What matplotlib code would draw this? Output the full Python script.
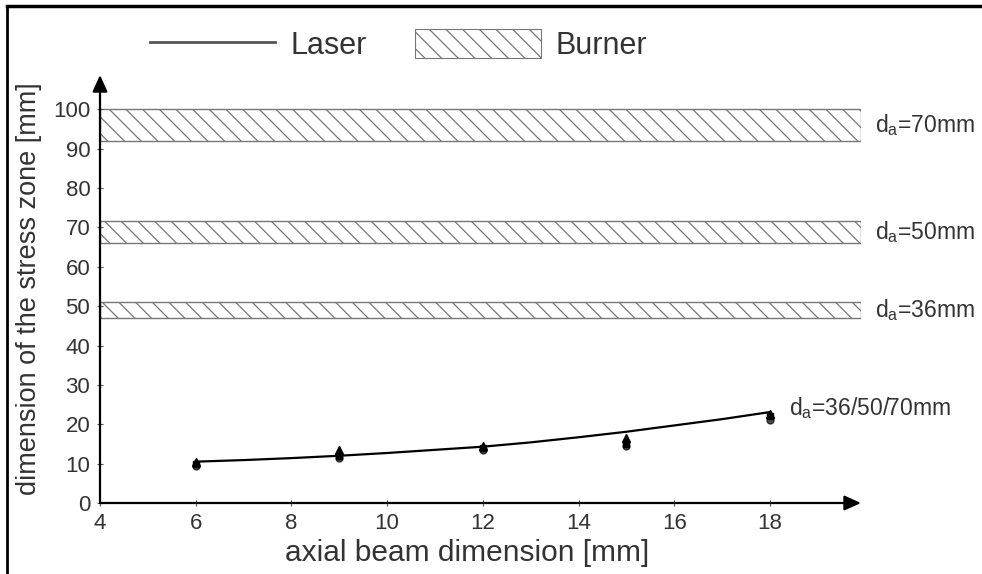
import numpy as np
import matplotlib
matplotlib.use("Agg")
import matplotlib.pyplot as plt
from matplotlib.lines import Line2D
from matplotlib.patches import Patch

plt.rcParams["font.family"] = ["Liberation Sans", "DejaVu Sans"]
plt.rcParams["hatch.linewidth"] = 0.9
plt.rcParams["hatch.color"] = "#555555"

# ------------- DATA -----------------
# laser: measured points for d_a = 36 / 50 / 70 mm
beam = [6, 9, 12, 15, 18]
zone_36 = [10.5, 13.5, 14.5, 16.5, 22.5]
zone_50 = [10.0, 12.0, 14.0, 15.0, 22.0]
zone_70 = [9.5, 11.5, 13.5, 14.5, 21.0]

# trend line
trend_x = [6, 7, 8, 9, 10, 11, 12, 13, 14, 15, 16, 17, 18]
trend_y = [10.5, 10.9, 11.4, 12.0, 12.7, 13.5, 14.3, 15.4, 16.7, 18.1, 19.7, 21.3, 23.1]

# burner: stress zone bands
band_low = [47, 66, 92]
band_high = [51, 71.5, 100]
band_labels = ["36mm", "50mm", "70mm"]

x_ticks = [4, 6, 8, 10, 12, 14, 16, 18]
y_ticks = list(range(0, 101, 10))
# ------------------------------------

W, H = 982, 574
fig = plt.figure(figsize=(W / 100, H / 100), dpi=100)
ax = fig.add_axes([100 / W, (H - 503) / H, 761 / W, (503 - 75) / H])

ax.set_xlim(4, 19.9)
ax.set_ylim(0, 108.7)

gray = "#555555"
txt = "#333333"

# hatched burner bands
for lo, hi in zip(band_low, band_high):
    ax.axhspan(lo, hi, facecolor="white", edgecolor="#777777", hatch="\\\\", linewidth=1.0)

# laser trend + points
ax.plot(trend_x, trend_y, color="black", lw=1.6, zorder=3)
ax.plot(beam, zone_36, ls="none", marker="^", ms=6, color="black", zorder=4)
ax.plot(beam, zone_50, ls="none", marker="s", ms=5, color="black", zorder=4)
ax.plot(beam, zone_70, ls="none", marker="o", ms=5, color="black", alpha=0.7, zorder=4)

# axes with arrow heads
for s in ax.spines.values():
    s.set_visible(False)
ax.annotate("", xy=(1.0, 0), xytext=(0, 0), xycoords="axes fraction",
            arrowprops=dict(arrowstyle="-|>,head_length=1.0,head_width=0.45",
                            color="black", lw=1.6, shrinkA=0, shrinkB=0))
ax.annotate("", xy=(0, 1.0), xytext=(0, 0), xycoords="axes fraction",
            arrowprops=dict(arrowstyle="-|>,head_length=1.0,head_width=0.45",
                            color="black", lw=1.6, shrinkA=0, shrinkB=0))

ax.set_xticks(x_ticks)
ax.set_yticks(y_ticks)
ax.tick_params(direction="inout", length=4, width=0.8, color=gray,
               labelsize=16, labelcolor=txt, pad=5)

ax.set_xlabel("axial beam dimension [mm]", fontsize=21.5, color=txt)
ax.set_ylabel("dimension of the stress zone [mm]", fontsize=19.5, color=txt)
ax.xaxis.set_label_coords(0.483, -0.085)
ax.yaxis.set_label_coords(-0.076, 0.5)

# band annotations
for lo, hi, lab in zip(band_low, band_high, band_labels):
    ax.text(20.2, (lo + hi) / 2, r"d$_\mathregular{a}$=" + lab, fontsize=16.5,
            color=txt, va="center", ha="left", clip_on=False)
ax.text(18.4, 24, r"d$_\mathregular{a}$=36/50/70mm", fontsize=16.5,
        color=txt, va="center", ha="left", clip_on=False)

# legend
handles = [Line2D([0], [0], color=gray, lw=2),
           Patch(facecolor="white", edgecolor="#777777", hatch="\\\\", linewidth=0.8)]
fig.legend(handles, ["Laser", "Burner"], loc="center left",
           bbox_to_anchor=(122 / W, 1 - 45 / H), ncol=2, frameon=False,
           fontsize=22, handlelength=4.1, handleheight=1.1,
           handletextpad=0.5, columnspacing=1.6, labelcolor=txt)

# outer frame (top and left edge)
fig.add_artist(Line2D([7 / W, 1], [1 - 5.5 / H, 1 - 5.5 / H], color="black", lw=2.5,
                      transform=fig.transFigure))
fig.add_artist(Line2D([7 / W, 7 / W], [0, 1 - 5.5 / H], color="black", lw=2.0,
                      transform=fig.transFigure))

fig.savefig("out.png", dpi=100, facecolor="white")
plt.close(fig)
